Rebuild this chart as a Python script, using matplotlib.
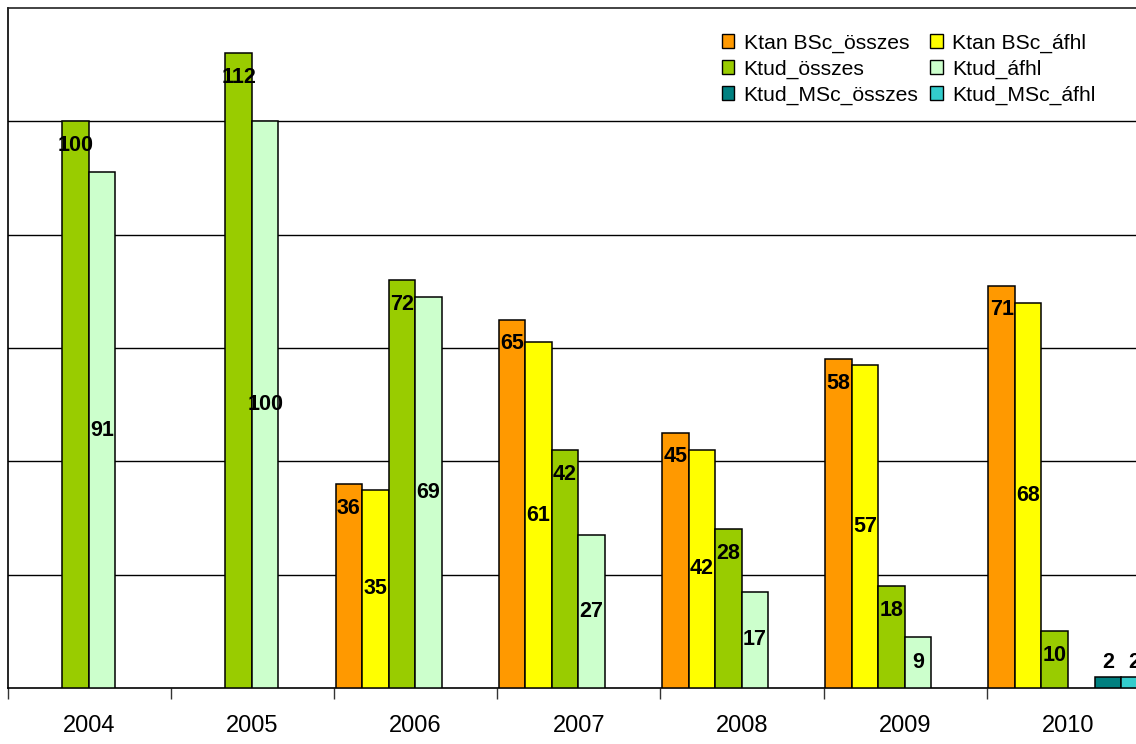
import numpy as np
import matplotlib
matplotlib.use("Agg")
import matplotlib.pyplot as plt
from matplotlib.patches import Patch

plt.rcParams['font.family'] = ['Liberation Sans', 'DejaVu Sans']

years = ['2004', '2005', '2006', '2007', '2008', '2009', '2010']
series_names = ['Ktan BSc_összes', 'Ktan BSc_áfhl', 'Ktud_összes',
                'Ktud_áfhl', 'Ktud_MSc_összes', 'Ktud_MSc_áfhl']
ktan_bsc_osszes = [None, None, 36, 65, 45, 58, 71]
ktan_bsc_afhl = [None, None, 35, 61, 42, 57, 68]
ktud_osszes = [100, 112, 72, 42, 28, 18, 10]
ktud_afhl = [91, 100, 69, 27, 17, 9, None]
ktud_msc_osszes = [None, None, None, None, None, None, 2]
ktud_msc_afhl = [None, None, None, None, None, None, 2]

series = [ktan_bsc_osszes, ktan_bsc_afhl, ktud_osszes,
          ktud_afhl, ktud_msc_osszes, ktud_msc_afhl]
colors = ['#FF9900', '#FFFF00', '#99CC00', '#CCFFCC', '#008080', '#33CCCC']
# label placement: 'end' = just inside the bar top, 'mid' = centred, 'out' = above
label_pos = ['end', 'mid', 'end', 'mid', 'out', 'out']

W, H = 1136, 744
fig = plt.figure(figsize=(W / 100, H / 100), dpi=100)
ax_left, ax_right = 7.5, 1150.0
ax_top, ax_bottom = 8.0, 688.0
ax = fig.add_axes([ax_left / W, (H - ax_bottom) / H,
                   (ax_right - ax_left) / W, (ax_bottom - ax_top) / H])

n_cat = len(years)
ax.set_xlim(0, n_cat)
ax.set_ylim(0, 120)
px_per_unit = (ax_bottom - ax_top) / 120.0

bar_w = 0.1625
start = 0.01
for k, (vals, col, pos) in enumerate(zip(series, colors, label_pos)):
    for i, v in enumerate(vals):
        if v is None:
            continue
        x = i + start + k * bar_w
        ax.bar(x, v, width=bar_w, align='edge', color=col,
               edgecolor='black', linewidth=1.1, zorder=3)
        if pos == 'end':
            y = v - 24 / px_per_unit
        elif pos == 'mid':
            y = v / 2
        else:
            y = v + 14 / px_per_unit
        ax.text(x + bar_w / 2, y, str(v), ha='center', va='center',
                fontsize=15.5, fontweight='bold', color='black', zorder=4)

# horizontal gridlines
for g in range(20, 120, 20):
    ax.axhline(g, color='black', linewidth=1.0, zorder=1)

ax.set_yticks([])
ax.set_xticks(np.arange(0, n_cat + 1))
ax.set_xticklabels([])
ax.set_xticks(np.arange(n_cat) + 0.5, minor=True)
ax.set_xticklabels(years, minor=True, fontsize=17)
ax.tick_params(axis='x', which='major', direction='out', length=8,
               width=1.0, color='#333333')
ax.tick_params(axis='x', which='minor', length=0, pad=19.5)

for side in ['left', 'top', 'right', 'bottom']:
    ax.spines[side].set_color('black')
    ax.spines[side].set_linewidth(1.2)
ax.spines['top'].set_color('#222222')

# legend: two columns, "összes" series on the left, "áfhl" series on the right
order = [0, 2, 4, 1, 3, 5]
handles = [Patch(facecolor=colors[j], edgecolor='black', linewidth=1.0)
           for j in order]
labels = [series_names[j] for j in order]
fig.legend(handles, labels, ncol=2, loc='upper left',
           bbox_to_anchor=(711 / W, 1 - 23 / H), frameon=False,
           fontsize=15.2, handlelength=0.6, handleheight=0.6,
           handletextpad=0.45, columnspacing=0.55, labelspacing=0.32,
           borderpad=0.0)

fig.savefig('out.png', dpi=100)
